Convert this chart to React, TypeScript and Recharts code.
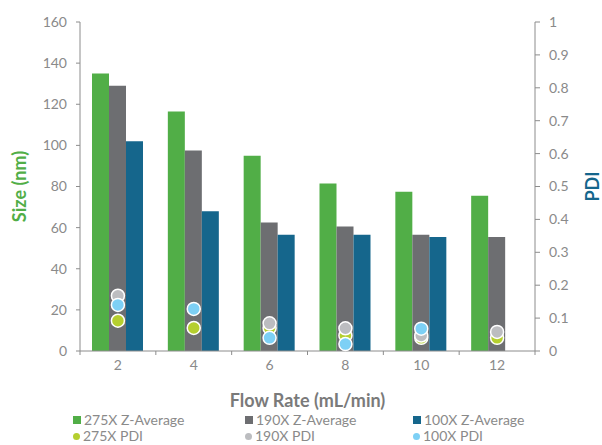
import React from 'react';
import {
  ComposedChart,
  Bar,
  Scatter,
  XAxis,
  YAxis,
  Legend
} from 'recharts';

const flowRates = ['2', '4', '6', '8', '10', '12'];
const z275 = [135, 116.5, 95, 81.5, 77.5, 75.5];
const z190 = [129, 97.5, 62.5, 60.5, 56.5, 55.5];
const z100 = [102, 68, 56.5, 56.5, 55.5, null];
const pdi275 = [0.092, 0.07, 0.07, 0.047, 0.04, 0.04];
const pdi190 = [0.168, null, 0.084, 0.069, 0.047, 0.058];
const pdi100 = [0.14, 0.128, 0.04, 0.021, 0.068, null];
const sizeTicks = [0, 20, 40, 60, 80, 100, 120, 140, 160];
const pdiTicks = [0, 0.1, 0.2, 0.3, 0.4, 0.5, 0.6, 0.7, 0.8, 0.9, 1];

const data = flowRates.map((f, i) => ({
  flow: f,
  z275: z275[i],
  z190: z190[i],
  z100: z100[i],
  pdi275: pdi275[i],
  pdi190: pdi190[i],
  pdi100: pdi100[i]
}));

const FONT = 'Lato, "Open Sans", sans-serif';
const AXIS = '#8c8c8c';
const TEXT = '#8a8a8a';

const legendRows = [
  [
    { name: '275X Z-Average', color: '#51ae47', shape: 'square' },
    { name: '190X Z-Average', color: '#6d6e71', shape: 'square' },
    { name: '100X Z-Average', color: '#15668c', shape: 'square' }
  ],
  [
    { name: '275X PDI', color: '#b5cf2f', shape: 'circle' },
    { name: '190X PDI', color: '#bcbdc0', shape: 'circle' },
    { name: '100X PDI', color: '#7dd0f5', shape: 'circle' }
  ]
];

const LegendContent = () => (
  <div style={{ fontFamily: FONT, fontSize: 14, lineHeight: '16px', color: TEXT, paddingLeft: 73, paddingTop: 1 }}>
    {legendRows.map((row, r) => (
      <div key={r} style={{ display: 'flex', height: 16, alignItems: 'center' }}>
        {row.map((item, c) => (
          <div key={item.name} style={{ width: c === 0 ? 172 : 168, display: 'flex', alignItems: 'center' }}>
            <span
              style={{
                display: 'inline-block',
                width: item.shape === 'square' ? 8 : 7,
                height: item.shape === 'square' ? 8 : 7,
                borderRadius: item.shape === 'square' ? 0 : '50%',
                background: item.color,
                marginRight: 3
              }}
            />
            {item.name}
          </div>
        ))}
      </div>
    ))}
  </div>
);

const FlowTick = (props: any) => {
  const { x, y, payload, index, visibleTicksCount } = props;
  const band = (535 - 80) / flowRates.length;
  const half = band / 2;
  return (
    <g>
      <line x1={x - half} x2={x - half} y1={y - 8} y2={y - 4} stroke={AXIS} />
      {index === visibleTicksCount - 1 && (
        <line x1={x + half} x2={x + half} y1={y - 8} y2={y - 4} stroke={AXIS} />
      )}
      <text x={x} y={y + 11} textAnchor="middle" fill={TEXT} fontSize={14} fontFamily={FONT}>
        {payload.value}
      </text>
    </g>
  );
};

const dot = (fill: string) => (props: any) => {
  const { cx, cy } = props;
  if (cx == null || cy == null) return <g />;
  return <circle cx={cx} cy={cy} r={6.5} fill={fill} stroke="#fff" strokeWidth={1.5} />;
};

export default function App() {
  return (
    <div style={{ position: 'absolute', left: 0, top: 0, background: '#fff' }}>
      <ComposedChart
        width={602}
        height={445}
        data={data}
        margin={{ top: 22, right: 0, bottom: 0, left: 0 }}
        barGap={0}
        barCategoryGap="16%"
      >
        <XAxis
          dataKey="flow"
          height={60}
          stroke={AXIS}
          tickLine={false}
          tick={<FlowTick />}
          label={{
            value: 'Flow Rate (mL/min)',
            position: 'insideBottom',
            offset: 4,
            fill: '#7a7a7a',
            fontSize: 18,
            fontWeight: 700,
            fontFamily: FONT
          }}
        />
        <YAxis
          yAxisId="size"
          width={80}
          domain={[0, 160]}
          ticks={sizeTicks}
          stroke={AXIS}
          tickSize={4}
          tickMargin={9}
          tick={{ fill: TEXT, fontSize: 14, fontFamily: FONT }}
          label={{
            value: 'Size (nm)',
            angle: -90,
            position: 'insideLeft',
            offset: 20,
            fill: '#51ae47',
            fontSize: 18,
            fontWeight: 700,
            fontFamily: FONT,
            style: { textAnchor: 'middle' }
          }}
        />
        <YAxis
          yAxisId="pdi"
          orientation="right"
          width={67}
          domain={[0, 1]}
          ticks={pdiTicks}
          stroke={AXIS}
          tickSize={5}
          tickMargin={9}
          tick={{ fill: TEXT, fontSize: 14, fontFamily: FONT, textAnchor: 'start' }}
          label={{
            value: 'PDI',
            angle: -90,
            position: 'insideRight',
            offset: 9,
            fill: '#15668c',
            fontSize: 18,
            fontWeight: 700,
            fontFamily: FONT,
            style: { textAnchor: 'middle' }
          }}
        />
        <Legend verticalAlign="bottom" height={34} content={<LegendContent />} />
        <Bar yAxisId="size" dataKey="z275" name="275X Z-Average" fill="#51ae47" barSize={17} isAnimationActive={false} />
        <Bar yAxisId="size" dataKey="z190" name="190X Z-Average" fill="#6d6e71" barSize={17} isAnimationActive={false} />
        <Bar yAxisId="size" dataKey="z100" name="100X Z-Average" fill="#15668c" barSize={17} isAnimationActive={false} />
        <Scatter yAxisId="pdi" dataKey="pdi275" name="275X PDI" fill="#b5cf2f" shape={dot('#b5cf2f')} isAnimationActive={false} />
        <Scatter yAxisId="pdi" dataKey="pdi190" name="190X PDI" fill="#bcbdc0" shape={dot('#bcbdc0')} isAnimationActive={false} />
        <Scatter yAxisId="pdi" dataKey="pdi100" name="100X PDI" fill="#7dd0f5" shape={dot('#7dd0f5')} isAnimationActive={false} />
      </ComposedChart>
    </div>
  );
}
